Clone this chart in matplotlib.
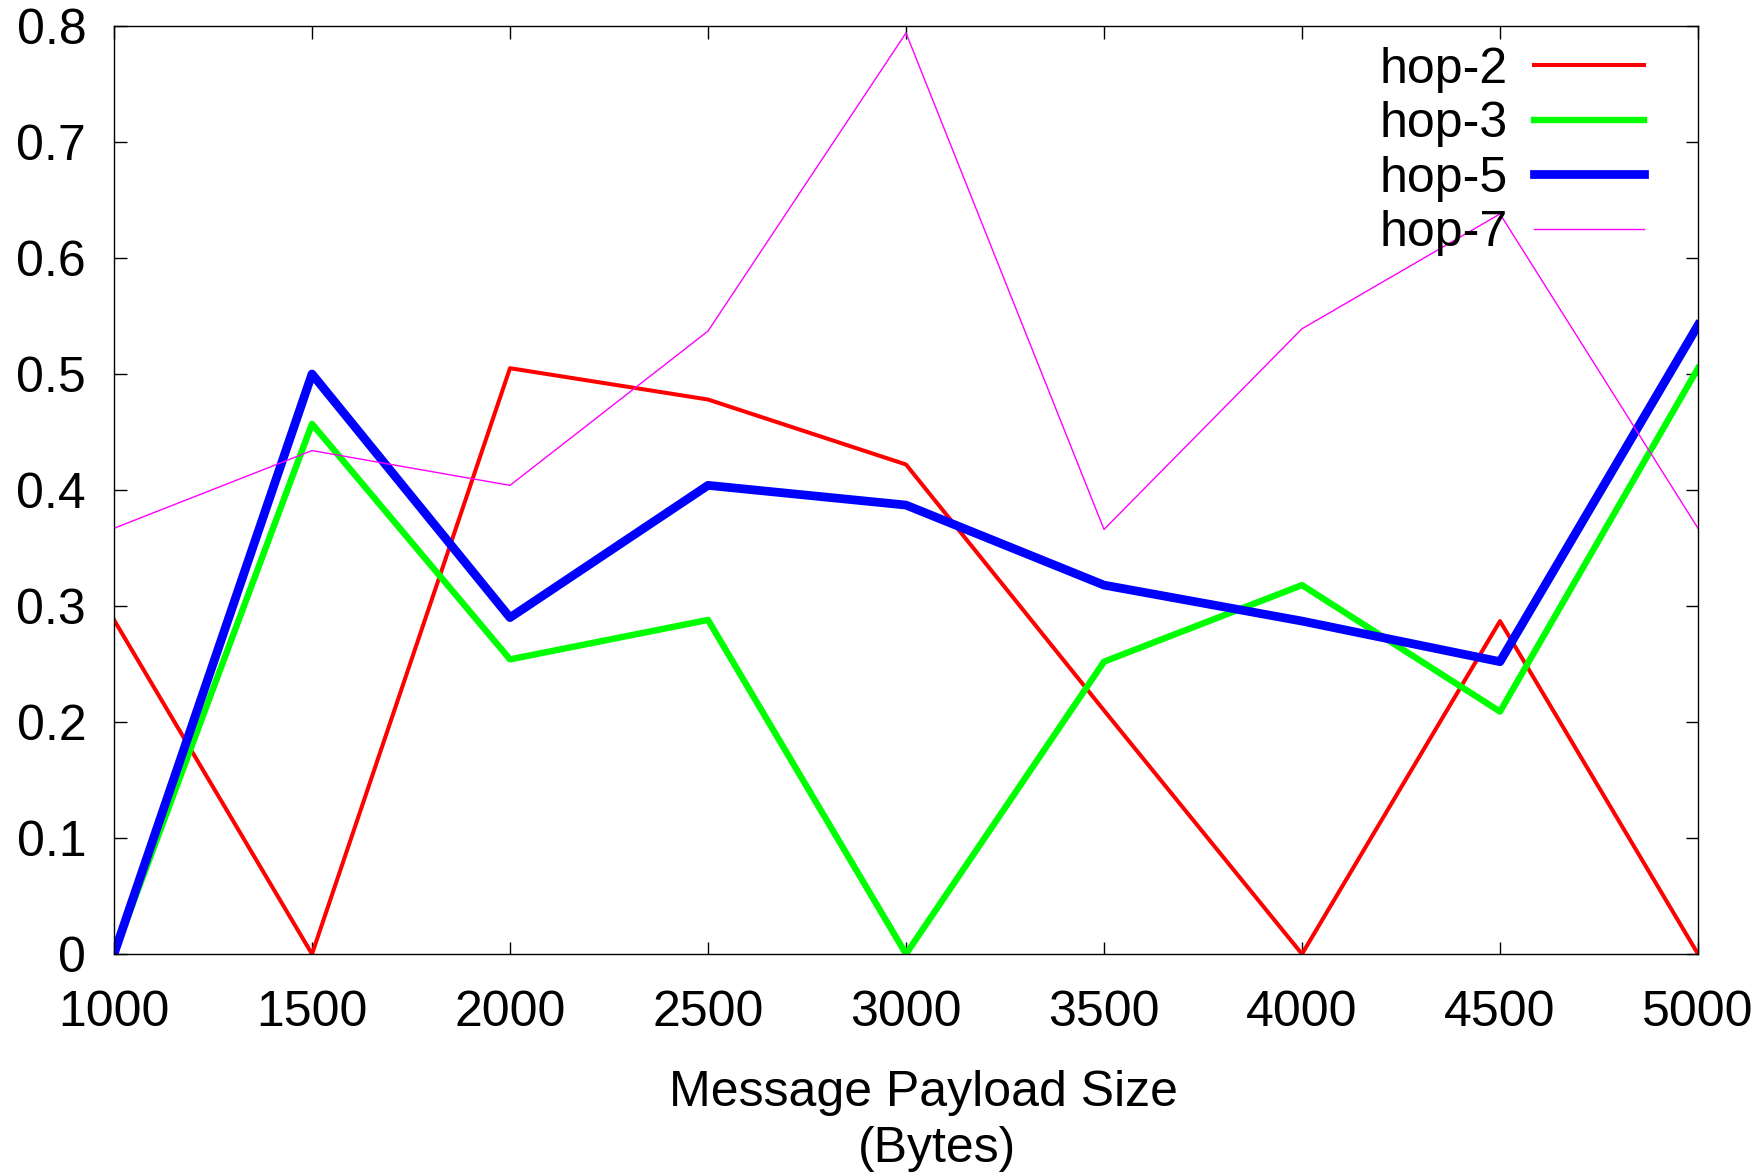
import matplotlib
matplotlib.use("Agg")
import matplotlib.pyplot as plt

# valores
payload = [1000, 1500, 2000, 2500, 3000, 3500, 4000, 4500, 5000]
hop_2 = [0.288, 0.0, 0.505, 0.478, 0.422, 0.210, 0.0, 0.287, 0.0]
hop_3 = [0.0, 0.457, 0.254, 0.288, 0.0, 0.252, 0.318, 0.209, 0.505]
hop_5 = [0.0, 0.500, 0.290, 0.404, 0.387, 0.318, 0.287, 0.252, 0.542]
hop_7 = [0.367, 0.434, 0.404, 0.537, 0.794, 0.366, 0.539, 0.638, 0.367]

etiquetas = ['hop-2', 'hop-3', 'hop-5', 'hop-7']
y_ticks = [0, 0.1, 0.2, 0.3, 0.4, 0.5, 0.6, 0.7, 0.8]
y_tick_labels = ['0', '0.1', '0.2', '0.3', '0.4', '0.5', '0.6', '0.7', '0.8']

plt.rcParams['font.family'] = ['Liberation Sans', 'DejaVu Sans']
tam = 36

fig = plt.figure(figsize=(17.65, 11.73), dpi=100)
ax = fig.add_axes([114 / 1765, 1 - 954 / 1173, (1698 - 114) / 1765, (954 - 26) / 1173])

ax.plot(payload, hop_2, color='#ff0000', lw=2.9, label=etiquetas[0])
ax.plot(payload, hop_3, color='#00ff00', lw=4.6, label=etiquetas[1])
ax.plot(payload, hop_5, color='#0000ff', lw=6.3, label=etiquetas[2])
ax.plot(payload, hop_7, color='#ff00ff', lw=1.0, label=etiquetas[3])

ax.set_xlim(1000, 5000)
ax.set_ylim(0, 0.8)
ax.set_xticks(payload)
ax.set_xticklabels([str(p) for p in payload])
ax.set_yticks(y_ticks)
ax.set_yticklabels(y_tick_labels)

ax.tick_params(axis='both', direction='in', length=9, width=1,
               top=True, right=True, labelsize=tam)
ax.tick_params(axis='x', pad=26)
ax.tick_params(axis='y', pad=20)
for s in ax.spines.values():
    s.set_linewidth(1.0)

# etiqueta del eje x en dos lineas, como en gnuplot
ax.set_xlabel('Message Payload Size', fontsize=tam)
ax.xaxis.set_label_coords(0.511, -0.125)
ax.xaxis.label.set_va('top')
ax.text(0.5196, -0.1857, '(Bytes)', transform=ax.transAxes,
        ha='center', va='top', fontsize=tam)

ax.legend(loc='upper right', bbox_to_anchor=(0.985, 1.01), frameon=False,
          markerfirst=False, fontsize=tam, handlelength=2.2,
          handletextpad=0.53, labelspacing=0.17, borderaxespad=0.2)

fig.savefig('out.png', dpi=100)
